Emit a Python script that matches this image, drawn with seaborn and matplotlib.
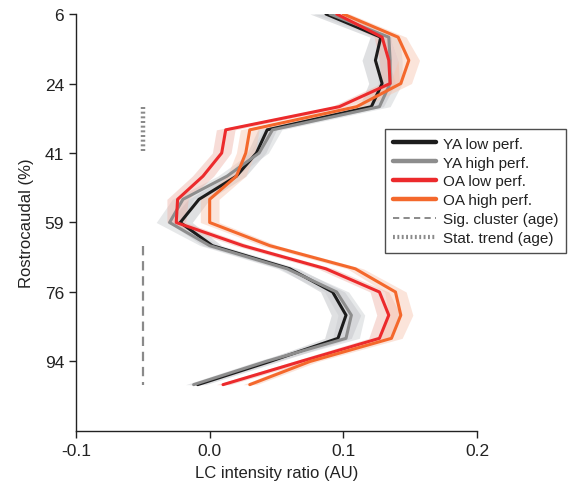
import numpy as np
import pandas as pd
import matplotlib
matplotlib.use("Agg")
import matplotlib.pyplot as plt
from matplotlib.lines import Line2D
import seaborn as sns

# Rostrocaudal slice positions (17 slices, expressed as % of LC length)
n_slices = 17
slice_pos = np.arange(1, n_slices + 1) / n_slices * 100
tick_idx = [0, 3, 6, 9, 12, 15]
tick_labels = ["6", "24", "41", "59", "76", "94"]

# Mean LC intensity ratio per slice and its standard error
ya_low = [0.087, 0.128, 0.124, 0.129, 0.121, 0.043, 0.035, 0.020, -0.008, -0.022,
          0.002, 0.060, 0.092, 0.102, 0.096, 0.045, -0.009]
ya_low_sem = [0.012, 0.008, 0.010, 0.010, 0.009, 0.007, 0.007, 0.007, 0.008, 0.009,
              0.007, 0.007, 0.009, 0.011, 0.010, 0.007, 0.006]
ya_high = [0.090, 0.134, 0.135, 0.135, 0.127, 0.047, 0.037, 0.013, -0.020, -0.030,
           0.000, 0.058, 0.095, 0.106, 0.102, 0.042, -0.012]
ya_high_sem = [0.012, 0.008, 0.009, 0.009, 0.008, 0.007, 0.007, 0.007, 0.008, 0.010,
               0.007, 0.007, 0.009, 0.010, 0.010, 0.007, 0.006]
oa_low = [0.095, 0.129, 0.134, 0.135, 0.097, 0.012, 0.009, -0.005, -0.024, -0.025,
          0.025, 0.087, 0.127, 0.134, 0.127, 0.068, 0.010]
oa_low_sem = [0.005, 0.006, 0.007, 0.007, 0.006, 0.007, 0.007, 0.008, 0.008, 0.007,
              0.006, 0.006, 0.007, 0.009, 0.008, 0.006, 0.005]
oa_high = [0.100, 0.141, 0.149, 0.143, 0.110, 0.030, 0.027, 0.020, 0.000, 0.000,
           0.045, 0.109, 0.139, 0.143, 0.136, 0.075, 0.030]
oa_high_sem = [0.005, 0.006, 0.008, 0.008, 0.006, 0.007, 0.007, 0.007, 0.007, 0.007,
               0.006, 0.006, 0.008, 0.009, 0.008, 0.006, 0.005]

# Significance markers (x position and slice span)
sig_x = -0.05
sig_span = (11, 17)      # significant age cluster
trend_span = (5, 7)      # statistical trend

groups = ["YA low perf.", "YA high perf.", "OA low perf.", "OA high perf."]
means = [ya_low, ya_high, oa_low, oa_high]
sems = [ya_low_sem, ya_high_sem, oa_low_sem, oa_high_sem]
line_colors = ["#1c1c1c", "#8d8d8d", "#ec2a2c", "#f4682c"]
band_colors = ["#b9bcc0", "#c9ccd0", "#eeb3a8", "#f7c4ae"]

rows = []
for g, m in zip(groups, means):
    for y, x in zip(slice_pos, m):
        rows.append({"group": g, "ratio": x, "pos": y})
df = pd.DataFrame(rows)

sns.set_style("ticks")
plt.rcParams["font.family"] = ["Liberation Sans", "DejaVu Sans"]
plt.rcParams["text.color"] = "#222222"
plt.rcParams["axes.labelcolor"] = "#222222"
plt.rcParams["xtick.color"] = "#222222"
plt.rcParams["ytick.color"] = "#222222"

fig = plt.figure(figsize=(5.68, 4.89), dpi=100)
ax = fig.add_axes([0.1338, 0.1166, 0.8398 - 0.1338, 0.9693 - 0.1166])

# shaded standard-error bands
for m, s, bc in zip(means, sems, band_colors):
    m = np.asarray(m)
    s = np.asarray(s)
    ax.fill_betweenx(slice_pos, m - s, m + s, color=bc, alpha=0.45, lw=0, zorder=1)

sns.lineplot(data=df, x="ratio", y="pos", hue="group", hue_order=groups,
             palette=line_colors, orient="y", sort=False, estimator=None,
             linewidth=2.2, legend=False, ax=ax, zorder=3)

sig_y = [slice_pos[sig_span[0] - 1], slice_pos[sig_span[1] - 1]]
trend_y = [slice_pos[trend_span[0] - 1], slice_pos[trend_span[1] - 1]]
ax.plot([sig_x, sig_x], sig_y, color="#8a8a8a", lw=1.6, dashes=(4.2, 2.6), zorder=2)
ax.plot([sig_x, sig_x], trend_y, color="#8a8a8a", lw=3.2, dashes=(0.45, 0.6), zorder=2)

ax.set_xlim(-0.1, 0.2)
ax.set_ylim(19 / n_slices * 100, slice_pos[0])
ax.set_xticks([-0.1, 0.0, 0.1, 0.2])
ax.set_xticklabels(["-0.1", "0.0", "0.1", "0.2"])
ax.set_yticks(slice_pos[tick_idx])
ax.set_yticklabels(tick_labels)
ax.tick_params(axis="both", labelsize=12.5, length=5, width=1.0, color="#222222")
for side in ["top", "right"]:
    ax.spines[side].set_visible(False)
for side in ["left", "bottom"]:
    ax.spines[side].set_linewidth(1.0)
    ax.spines[side].set_color("#222222")

ax.set_xlabel("LC intensity ratio (AU)", fontsize=12, labelpad=5)
ax.set_ylabel("Rostrocaudal (%)", fontsize=12, labelpad=8)

handles = [Line2D([0], [0], color=c, lw=3.2) for c in line_colors]
handles.append(Line2D([0], [0], color="#8a8a8a", lw=1.4, dashes=(3.2, 2.2)))
handles.append(Line2D([0], [0], color="#8a8a8a", lw=3.0, dashes=(0.45, 0.6)))
labels = groups + ["Sig. cluster (age)", "Stat. trend (age)"]
leg = fig.legend(handles, labels, loc="upper left", bbox_to_anchor=(0.678, 0.734),
                 bbox_transform=fig.transFigure, fontsize=11, frameon=True,
                 fancybox=False, handlelength=2.8, handletextpad=0.5,
                 labelspacing=0.32, borderpad=0.5, borderaxespad=0)
leg.get_frame().set_edgecolor("#222222")
leg.get_frame().set_linewidth(1.0)

fig.savefig("out.png", dpi=100)
